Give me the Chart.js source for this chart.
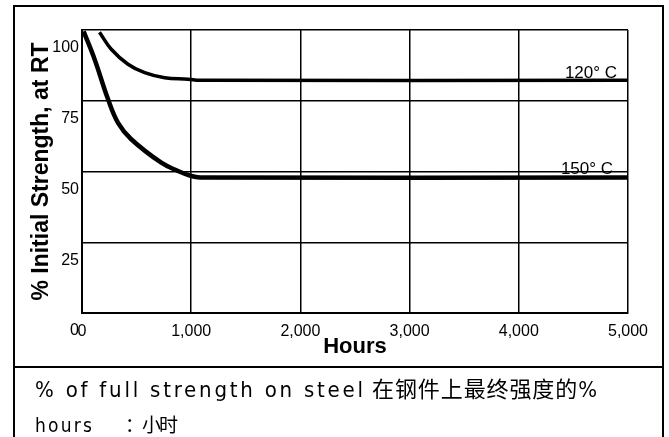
<!DOCTYPE html>
<html>
<head>
<meta charset="utf-8">
<script src="https://cdn.jsdelivr.net/npm/chart.js@4.4.1/dist/chart.umd.min.js"></script>
<style>
  body { margin: 0; background: #fff; }
  #wrap { position: relative; width: 669px; height: 437px; overflow: hidden; background: #fff; }
  #chart { position: absolute; left: 0; top: 0; }
  #frame { position: absolute; left: 13px; top: 5px; width: 651px; height: 470px; border: 2px solid #000; box-sizing: border-box; pointer-events: none; }
  #sep { position: absolute; left: 13px; top: 366px; width: 651px; height: 2px; background: #000; }
  .note { position: absolute; white-space: nowrap; color: #000;
          font-family: 'Liberation Sans Narrow', 'DejaVu Sans Condensed', 'Noto Sans CJK SC', sans-serif; }
</style>
</head>
<body>
<div id="wrap">
  <canvas id="chart" width="669" height="367"></canvas>
  <div id="frame"></div>
  <div id="sep"></div>
  <div class="note fit" data-w="328" style="left:35px;top:379px;font-size:22px;line-height:22px">% of full strength on steel</div>
  <div class="note fit" data-w="225" style="left:372px;top:379px;font-size:22px;line-height:22px">在钢件上最终强度的%</div>
  <div class="note fit" data-w="57" style="left:35px;top:416px;font-size:19px;line-height:19px">hours</div>
  <div class="note fit" data-w="53" style="left:125px;top:416px;font-size:19px;line-height:19px">：小时</div>
</div>
<script>
// values
var hours120 = [160, 268, 421, 574, 757, 971, 1081, 5000];
var strength120 = [99.2, 93.2, 87.9, 84.9, 83.1, 82.6, 82.2, 82.2];

var hours150 = [15, 116, 238, 330, 451, 726, 879, 1001, 1081, 5000];
var strength150 = [99.5, 89.6, 75.6, 67.2, 61.4, 53.1, 50.2, 48.4, 47.9, 47.9];

var curveNames = ['120° C', '150° C'];
var nameHours = [4900, 4863];
var nameValues = [83.0, 49.1];

var xTicks = [0, 1000, 2000, 3000, 4000, 5000];
var yTicks = [0, 25, 50, 75, 100];

// stretch the note lines to the widths seen in the picture
document.querySelectorAll('.fit').forEach(function (el) {
    var n = el.textContent.length;
    var w = el.getBoundingClientRect().width;
    el.style.letterSpacing = ((+el.dataset.w - w) / (n - 1)) + 'px';
});

Chart.defaults.font.family = "'Liberation Sans', Arial, sans-serif";
Chart.defaults.color = '#000';

function pts(xs, ys) {
    return xs.map(function (x, i) { return {x: x, y: ys[i]}; });
}

var curveLabels = {
    id: 'curveLabels',
    afterDatasetsDraw: function (chart) {
        var c = chart.ctx;
        c.save();
        c.font = "17px 'Liberation Sans', Arial, sans-serif";
        c.fillStyle = '#000';
        c.textAlign = 'right';
        c.textBaseline = 'alphabetic';
        for (var i = 0; i < curveNames.length; i++) {
            c.fillText(curveNames[i],
                chart.scales.x.getPixelForValue(nameHours[i]),
                chart.scales.y.getPixelForValue(nameValues[i]));
        }
        c.restore();
    }
};

var ctx = document.getElementById('chart').getContext('2d');
var agingChart = new Chart(ctx, {
    type: 'line',
    data: {
        datasets: [
            {
                label: '120° C',
                data: pts(hours120, strength120),
                borderColor: '#000',
                borderWidth: 3.5,
                pointRadius: 0,
                tension: 0.4
            },
            {
                label: '150° C',
                data: pts(hours150, strength150),
                borderColor: '#000',
                borderWidth: 4.5,
                pointRadius: 0,
                tension: 0.4
            }]
    },
    options: {
        responsive: false,
        animation: false,
        locale: 'en-US',
        layout: { padding: { left: 28, top: 30, right: 41, bottom: 7 } },
        plugins: { legend: { display: false }, tooltip: { enabled: false } },
        scales: {
            x: {
                type: 'linear',
                min: 0,
                max: 5000,
                afterBuildTicks: function (s) { s.ticks = xTicks.map(function (v) { return {value: v}; }); },
                afterFit: function (s) { s.height = 47; },
                ticks: { font: { size: 16 }, padding: 9, autoSkip: false, maxRotation: 0 },
                grid: { color: '#000', lineWidth: 1.5, drawTicks: false },
                border: { color: '#000', width: 2 },
                title: { display: true, text: 'Hours', font: { size: 22, weight: 'bold' }, padding: 0 }
            },
            y: {
                min: 0,
                max: 100,
                afterBuildTicks: function (s) { s.ticks = yTicks.map(function (v) { return {value: v}; }); },
                afterFit: function (s) { s.width = 54; },
                ticks: { font: { size: 16 }, padding: 3, labelOffset: 18, autoSkip: false },
                grid: { color: '#000', lineWidth: 1.5, drawTicks: false },
                border: { color: '#000', width: 2 },
                title: { display: true, text: '% Initial Strength, at RT', font: { size: 23, weight: 'bold' }, padding: 0 }
            }
        }
    },
    plugins: [curveLabels]
});
</script>
</body>
</html>
